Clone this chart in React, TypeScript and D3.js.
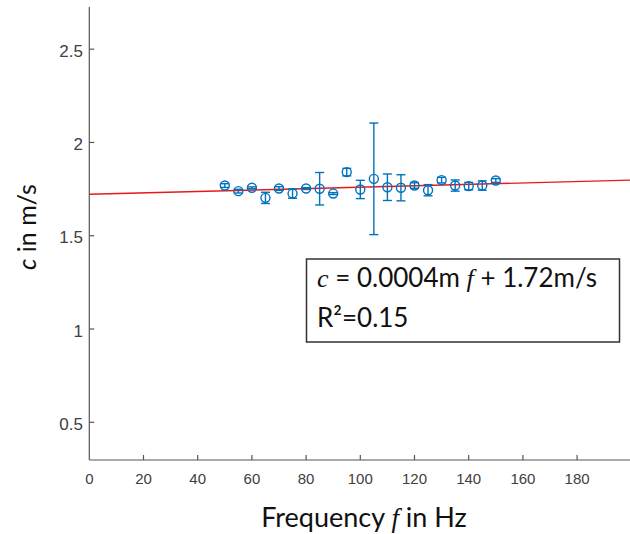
import React from "react";
import * as d3 from "d3";

// measured frequencies (Hz) and wave speed c (m/s) with error half-widths
const freqs = [50, 55, 60, 65, 70, 75, 80, 85, 90, 95, 100, 105, 110, 115, 120, 125, 130, 135, 140, 145, 150];
const speeds = [1.769, 1.739, 1.757, 1.703, 1.753, 1.726, 1.753, 1.752, 1.726, 1.841, 1.748, 1.805, 1.76, 1.757, 1.769, 1.744, 1.798, 1.769, 1.766, 1.769, 1.796];
const errs = [0.01, 0.01, 0.005, 0.03, 0.01, 0.025, 0.005, 0.087, 0.005, 0.02, 0.049, 0.299, 0.071, 0.07, 0.015, 0.03, 0.015, 0.03, 0.02, 0.025, 0.01];

const xTicks = [0, 20, 40, 60, 80, 100, 120, 140, 160, 180];
const yTicks = [0.5, 1, 1.5, 2, 2.5];

// fitted line c = slope*f + intercept
const fitSlope = 0.00038;
const fitIntercept = 1.722;

const width = 630;
const height = 534;
const blue = "#0072BD";
const axisColor = "#555";
const tickColor = "#404040";
const sans = "Lato, Open Sans, sans-serif";
const serif = "Liberation Serif, serif";

export default function App() {
  const x = d3.scaleLinear().domain([0, 200]).range([89.3, 631.3]);
  const y = d3.scaleLinear().domain([0.298, 2.726]).range([460, 7]);

  const fit = d3.line<number>()
    .x((f) => x(f))
    .y((f) => y(fitSlope * f + fitIntercept));

  const cap = 4.5;
  const y0 = y(0.298);

  return (
    <svg width={width} height={height} style={{ position: "absolute", left: 0, top: 0, background: "#fff" }}>
      {/* axes */}
      <line x1={x(0)} x2={x(200)} y1={y0} y2={y0} stroke={axisColor} strokeWidth={1.2} />
      <line x1={x(0)} x2={x(0)} y1={y0} y2={y(2.726)} stroke={axisColor} strokeWidth={1.2} />
      {xTicks.map((t) => (
        <g key={"x" + t}>
          {t > 0 && <line x1={x(t)} x2={x(t)} y1={y0} y2={y0 - 5} stroke={axisColor} strokeWidth={1.2} />}
          <text x={x(t)} y={y0 + 24} textAnchor="middle" fill={tickColor}
            style={{ fontFamily: "Liberation Sans, Arial, sans-serif", fontSize: 15 }}>{t}</text>
        </g>
      ))}
      {yTicks.map((t) => (
        <g key={"y" + t}>
          <line x1={x(0)} x2={x(0) + 5} y1={y(t)} y2={y(t)} stroke={axisColor} strokeWidth={1.2} />
          <text x={83} y={y(t) + 7.5} textAnchor="end" fill={tickColor}
            style={{ fontFamily: "Liberation Sans, Arial, sans-serif", fontSize: 17 }}>{t}</text>
        </g>
      ))}

      {/* fit line */}
      <path d={fit([0, 200]) || ""} fill="none" stroke="#e8191b" strokeWidth={1.4} />

      {/* data with error bars */}
      {freqs.map((f, i) => {
        const cx = x(f);
        const top = y(speeds[i] + errs[i]);
        const bot = y(speeds[i] - errs[i]);
        return (
          <g key={"p" + i} stroke={blue} strokeWidth={1.4} fill="none">
            <line x1={cx} x2={cx} y1={top} y2={bot} />
            <line x1={cx - cap} x2={cx + cap} y1={top} y2={top} />
            <line x1={cx - cap} x2={cx + cap} y1={bot} y2={bot} />
            <circle cx={cx} cy={y(speeds[i])} r={4.5} />
          </g>
        );
      })}

      {/* annotation box */}
      <rect x={306.5} y={259} width={313} height={83} fill="#fff" stroke="#333" strokeWidth={1.5} />
      <text x={317} y={287} style={{ fontFamily: sans, fontSize: 26 }} fill="#111">
        <tspan style={{ fontFamily: serif, fontStyle: "italic" }}>c</tspan>
        <tspan> = 0.0004m </tspan>
        <tspan style={{ fontFamily: serif, fontStyle: "italic" }}>f</tspan>
        <tspan> + 1.72m/s</tspan>
      </text>
      <text x={317} y={327} style={{ fontFamily: sans, fontSize: 26 }} fill="#111">R²=0.15</text>

      {/* axis labels */}
      <text x={364} y={527} textAnchor="middle" style={{ fontFamily: sans, fontSize: 27 }} fill="#111">
        Frequency <tspan style={{ fontFamily: serif, fontStyle: "italic" }}>f</tspan> in Hz
      </text>
      <text transform="translate(36,227) rotate(-90)" textAnchor="middle"
        style={{ fontFamily: sans, fontSize: 25 }} fill="#111">
        <tspan style={{ fontStyle: "italic" }}>c</tspan> in m/s
      </text>
    </svg>
  );
}
